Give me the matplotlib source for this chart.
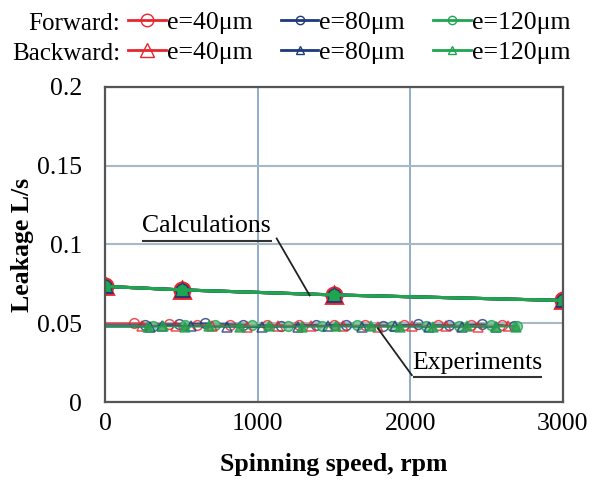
import matplotlib.pyplot as plt
from matplotlib.lines import Line2D

plt.rcParams['font.family'] = ['Liberation Serif', 'DejaVu Serif']

# calculated leakage (same for all cases)
calc_rpm = [0, 500, 1500, 3000]
calc_leak = [0.0734, 0.0712, 0.0680, 0.0645]

# measured leakage, forward rotation
fwd40_rpm = [190, 420, 600, 820, 1060, 1270, 1500, 1700, 1960, 2180, 2400, 2600]
fwd40_leak = [0.0500, 0.0495, 0.0492, 0.0490, 0.0488, 0.0492, 0.0490, 0.0489, 0.0488, 0.0487, 0.0490, 0.0488]
fwd80_rpm = [260, 480, 650, 900, 1150, 1380, 1580, 1820, 2050, 2250, 2470, 2680]
fwd80_leak = [0.0490, 0.0495, 0.0500, 0.0492, 0.0485, 0.0490, 0.0492, 0.0486, 0.0493, 0.0488, 0.0494, 0.0486]
fwd120_rpm = [310, 520, 720, 960, 1200, 1420, 1650, 1880, 2100, 2320, 2530, 2700]
fwd120_leak = [0.0485, 0.0488, 0.0487, 0.0490, 0.0484, 0.0486, 0.0488, 0.0485, 0.0486, 0.0484, 0.0487, 0.0484]

# measured leakage, backward rotation
bwd40_rpm = [240, 460, 700, 930, 1130, 1350, 1560, 1790, 2010, 2230, 2440, 2640]
bwd40_leak = [0.0480, 0.0482, 0.0483, 0.0479, 0.0481, 0.0480, 0.0482, 0.0479, 0.0481, 0.0480, 0.0479, 0.0481]
bwd80_rpm = [290, 370, 560, 800, 1030, 1260, 1460, 1680, 1900, 2120, 2340, 2560]
bwd80_leak = [0.0478, 0.0484, 0.0480, 0.0477, 0.0476, 0.0479, 0.0481, 0.0478, 0.0480, 0.0477, 0.0479, 0.0477]
bwd120_rpm = [280, 380, 520, 680, 880, 1070, 1290, 1510, 1740, 1930, 2150, 2370, 2560, 2690]
bwd120_leak = [0.0478, 0.0480, 0.0479, 0.0481, 0.0478, 0.0480, 0.0479, 0.0481, 0.0480, 0.0479, 0.0478, 0.0480, 0.0479, 0.0478]

red = '#e8262d'
blue = '#1f3a7a'
green = '#1fa550'
fs = 18.5

fig = plt.figure(figsize=(5.92, 4.88), dpi=100)
ax = fig.add_axes([0.178, 0.176, 0.773, 0.646])

exp = [
    (fwd40_rpm, fwd40_leak, red, 'o', 'none'),
    (fwd80_rpm, fwd80_leak, blue, 'o', 'none'),
    (fwd120_rpm, fwd120_leak, green, 'o', '#7fc99a'),
    (bwd40_rpm, bwd40_leak, red, '^', 'none'),
    (bwd80_rpm, bwd80_leak, blue, '^', 'none'),
    (bwd120_rpm, bwd120_leak, green, '^', '#2e9a4e'),
]
for rpm, leak, c, m, fc in exp:
    ax.plot([0] + rpm, [leak[0]] + leak, color=c, lw=1.2, marker=m, ms=7,
            mfc=fc, mec=c, mew=1.1, alpha=0.8, markevery=list(range(1, len(rpm) + 1)))

# calculations: all six cases coincide
for c, m, ms in [(red, 'o', 11), (red, '^', 12), (blue, 'o', 8), (blue, '^', 8), (green, 'o', 6), (green, '^', 6)]:
    ax.plot(calc_rpm, calc_leak, color=c, lw=2.2, marker=m, ms=ms, mfc=c if c != red else 'none',
            mec=c, mew=2)

ax.set_xlim(0, 3000)
ax.set_ylim(0, 0.2)
ax.set_xticks([0, 1000, 2000, 3000])
ax.set_yticks([0, 0.05, 0.1, 0.15, 0.2])
ax.set_yticklabels(['0', '0.05', '0.1', '0.15', '0.2'])
ax.grid(True, color='#a9b8c6', lw=1.5)
ax.xaxis.grid(True, color='#7f9fbf', lw=1.2)
ax.set_axisbelow(True)
ax.tick_params(length=0, labelsize=fs)
ax.tick_params(axis='y', pad=17)
ax.tick_params(axis='x', pad=8)
for s in ax.spines.values():
    s.set_color('#555555')
    s.set_linewidth(1.6)

ax.set_xlabel('Spinning speed, rpm', fontsize=fs, fontweight='bold', labelpad=13)
ax.set_ylabel('Leakage L/s', fontsize=fs, fontweight='bold', labelpad=2)

# leader lines with underlined labels
ax.text(243, 0.1045, 'Calculations', fontsize=fs, va='bottom')
ax.plot([243, 1090], [0.1025, 0.1025], color='#333333', lw=1.5, solid_capstyle='butt')
ax.plot([1123, 1339], [0.1038, 0.0677], color='#222222', lw=1.3)
ax.text(2015, 0.0178, 'Experiments', fontsize=fs, va='bottom')
ax.plot([2015, 2862], [0.0158, 0.0158], color='#333333', lw=1.5, solid_capstyle='butt')
ax.plot([1786, 2009], [0.0468, 0.0171], color='#222222', lw=1.3)

# legend: forward row and backward row
handles = []
labels = []
for c, e in ((red, 40), (blue, 80), (green, 120)):
    handles.append(Line2D([], [], color=c, lw=2, marker='o', ms=9 if c == red else 6,
                          mfc='none', mec=c, mew=1))
    labels.append('e=%dμm' % e)
    handles.append(Line2D([], [], color=c, lw=2, marker='^', ms=10 if c == red else 6,
                          mfc='none', mec=c, mew=1))
    labels.append('e=%dμm' % e)
fig.legend(handles, labels, ncol=3, loc='upper left', bbox_to_anchor=(0.217, 0.977),
           frameon=False, fontsize=fs, handlelength=1.45, handletextpad=0.05,
           columnspacing=1.1, labelspacing=0.25, borderpad=0, borderaxespad=0)
fig.text(0.203, 0.951, 'Forward:', fontsize=18, ha='right', va='center')
fig.text(0.203, 0.889, 'Backward:', fontsize=18, ha='right', va='center')

fig.savefig('out.png', dpi=100)
